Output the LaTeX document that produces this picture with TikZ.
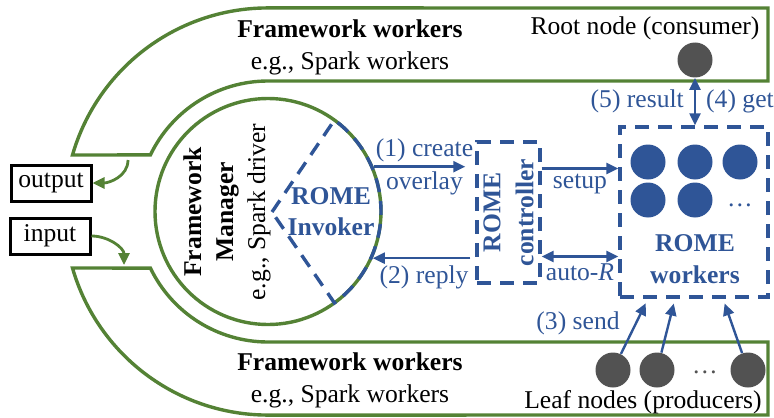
\documentclass[tikz,border=0pt]{standalone}
\usepackage{fontspec}
\setmainfont{Liberation Serif}
\usetikzlibrary{arrows.meta,shadows}
\definecolor{romeblue}{RGB}{47,85,151}
\definecolor{fwgreen}{RGB}{84,130,53}
\definecolor{peergray}{RGB}{82,82,82}

\begin{document}
\begin{tikzpicture}[x=0.5pt,y=0.5pt,
    font=\fontsize{12.8}{16}\selectfont,
    fw/.style={draw=fwgreen, line width=1.7pt},
    romebox/.style={draw=romeblue, line width=1.7pt, dash pattern=on 7pt off 4.5pt},
    barrow/.style={romeblue, line width=1.2pt, -{Triangle[length=6pt,width=5.5pt]}},
    garrow/.style={fwgreen, line width=1.4pt, -{Triangle[length=6pt,width=5.5pt]}},
    iobox/.style={draw=black, line width=1.5pt, fill=white, minimum width=40pt, minimum height=18pt,
      drop shadow={opacity=0.35, shadow xshift=1pt, shadow yshift=-1pt}},
    peer/.style={circle, fill=peergray, minimum size=17.5pt, inner sep=0pt},
    worker/.style={circle, fill=romeblue, minimum size=17.5pt, inner sep=0pt},
    lbl/.style={romeblue, inner sep=2pt}]
  \useasboundingbox (0,0) rectangle (774,-417);

  % framework workers, top and bottom
  \draw[fw] (72.5,-155) arc[start angle=163.9, end angle=90, radius=203.5] -- (768,-8)
    -- (768,-81) -- (268,-81) arc[start angle=90, end angle=154.3, radius=130.5] -- cycle;
  \draw[fw] (72.5,-268) arc[start angle=-163.9, end angle=-90, radius=203.5] -- (768,-415)
    -- (768,-342) -- (268,-342) arc[start angle=-90, end angle=-154.3, radius=130.5] -- cycle;
  \node[align=center] (topfw) at (350,-47.5) {\textbf{Framework workers}\\e.g., Spark workers};
  \node[align=center] (botfw) at (350,-380) {\textbf{Framework workers}\\e.g., Spark workers};

  % framework manager
  \node[fw, circle, minimum size=113pt, inner sep=0pt] (mgr) at (268,-211.5) {};
  \node[rotate=90, align=center] (mgrtext) at (227,-212) {\textbf{Framework}\\\textbf{Manager}\\e.g., Spark driver};
  \draw[romebox] (272,-212) -- ([shift={(54:113)}]mgr.center)
    arc[start angle=54, end angle=-54, radius=113] -- cycle;
  \node[romeblue, align=center, font=\fontsize{12.8}{15.5}\selectfont\bfseries] (invoker) at (331,-212) {ROME\\Invoker};

  % input / output
  \node[iobox] (output) at (51,-183) {output};
  \node[iobox] (input) at (50,-236) {input};
  \coordinate (outsrc) at (128,-160);
  \coordinate (insink) at (124,-265);
  \draw[garrow] (outsrc) to[out=-90, in=0] (output.east);
  \draw[garrow] (input.east) to[out=0, in=90] (insink);

  % controller
  \node[romebox, minimum width=31.5pt, minimum height=70.5pt] (ctrl) at (508.5,-212.5) {};
  \node[rotate=90, romeblue, align=center, font=\fontsize{12.8}{16.5}\selectfont\bfseries] at (ctrl) {ROME\\controller};
  \draw[barrow, shorten >=5pt] (mgr.23) -- (mgr.23 -| ctrl.west)
    node[midway, above, lbl] {(1) create} node[midway, below, lbl] {overlay};
  \draw[barrow, shorten <=2.5pt] (ctrl.west |- mgr.-24) -- (mgr.-24)
    node[midway, below, lbl, yshift=-1pt] {(2) reply};

  % ROME workers
  \node[romebox, minimum width=74pt, minimum height=85pt] (wrk) at (694,-212) {};
  \foreach \x/\y [count=\i] in {648/162, 695/162, 740/162, 648/200, 695/200}
    \node[worker] (w\i) at (\x,-\y) {};
  \node[romeblue] (wdots) at (740,-205) {\dots};
  \node[romeblue, align=center, font=\fontsize{12.8}{16}\selectfont\bfseries] (wrktext) at (695,-259) {ROME\\workers};
  \draw[barrow] ([yshift=22pt]ctrl.east) -- ([yshift=22pt]ctrl.east -| wrk.west)
    node[midway, below, lbl] {setup};
  \draw[barrow, {Triangle[length=6pt,width=5.5pt]}-{Triangle[length=6pt,width=5.5pt]}]
    ([yshift=-22pt]ctrl.east) -- ([yshift=-22pt]ctrl.east -| wrk.west)
    node[midway, below, lbl, yshift=-1pt] {auto-\textit{R}};

  % root node
  \node[peer] (root) at (695,-60) {};
  \node (rootlbl) at (645,-28) {Root node (consumer)};
  \draw[barrow, {Triangle[length=6pt,width=5.5pt]}-{Triangle[length=6pt,width=5.5pt]}]
    (root.south) -- (root.south |- wrk.north)
    node[midway, left, lbl, xshift=-3pt] {(5) result} node[midway, right, lbl, xshift=3pt] {(4) get};

  % leaf nodes
  \node[peer] (leaf1) at (613,-370) {};
  \node[peer] (leaf2) at (657,-370) {};
  \node[peer] (leaf3) at (748,-370) {};
  \node[peergray] (ldots) at (705,-372) {\dots};
  \node (leaflbl) at (643,-402) {Leaf nodes (producers)};
  \draw[barrow, shorten >=2.5pt] (leaf1) -- ([xshift=-23pt]wrk.south);
  \draw[barrow, shorten >=2.5pt] (leaf2) -- ([xshift=-9.5pt]wrk.south);
  \draw[barrow, shorten >=2.5pt] (leaf3) -- ([xshift=14.5pt]wrk.south);
  \node[lbl] (sendlbl) at (578,-323) {(3) send};
\end{tikzpicture}
\end{document}
